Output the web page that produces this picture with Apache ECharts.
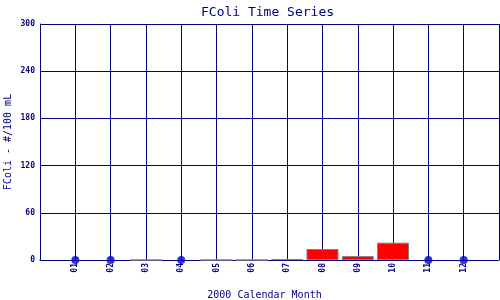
<!DOCTYPE html>
<html><head><meta charset="utf-8">
<script src="https://cdn.jsdelivr.net/npm/echarts@6/dist/echarts.min.js"></script>
<style>html,body{margin:0;padding:0;background:#fff}#c{width:500px;height:300px}</style>
</head><body><div id="c"></div>
<script>
var months = ['01','02','03','04','05','06','07','08','09','10','11','12'];
var barValues = [null, null, 0, null, 0, 0, 1, 14, 5, 22, null, null];
var dotValues = [0, 0, null, 0, null, null, null, null, null, null, 0, 0];
var yTicks = [0, 60, 120, 180, 240, 300];

var navy = '#000080';
var mono = 'DejaVu Sans Mono';
var barData = [], dotData = [];
months.forEach(function (m, i) {
  if (barValues[i] !== null) barData.push([i + 1, barValues[i]]);
  if (dotValues[i] !== null) dotData.push([i + 1, dotValues[i]]);
});

var chart = echarts.init(document.getElementById('c'));
chart.setOption({
  animation: false,
  backgroundColor: '#fff',
  title: {
    text: 'FColi Time Series', left: 196, top: 1,
    textStyle: { fontFamily: mono, fontSize: 13, fontWeight: 'normal', color: navy }
  },
  grid: { left: 40, right: 1, top: 24, bottom: 40, containLabel: false, outerBoundsMode: 'none' },
  xAxis: {
    type: 'value', min: 0, max: months.length + 1, interval: 1,
    name: '2000 Calendar Month', nameLocation: 'middle', nameGap: 30,
    nameTextStyle: { fontFamily: mono, fontSize: 10, color: navy, padding: [0, 10, 0, 0] },
    axisLine: { show: true, lineStyle: { color: navy, width: 1 } },
    axisTick: { show: false },
    splitLine: { show: true, lineStyle: { color: navy, width: 1 } },
    axisLabel: {
      rotate: 90, margin: 3, fontFamily: mono, fontSize: 8, fontWeight: 'bold', color: navy,
      formatter: function (v) { return (v >= 1 && v <= months.length) ? months[v - 1] : ''; }
    }
  },
  yAxis: {
    type: 'value', min: yTicks[0], max: yTicks[yTicks.length - 1], interval: 60,
    name: 'FColi - #/100 mL', nameLocation: 'middle', nameGap: 27, nameMoveOverlap: false,
    nameTextStyle: { fontFamily: mono, fontSize: 10, color: navy },
    axisLine: { show: true, lineStyle: { color: navy, width: 1 } },
    axisTick: { show: false },
    splitLine: { show: true, lineStyle: { color: navy, width: 1 } },
    axisLabel: { margin: 5, fontFamily: mono, fontSize: 8, fontWeight: 'bold', color: navy }
  },
  series: [
    {
      type: 'bar', data: barData, barWidth: 32,
      itemStyle: { color: '#ff0000', borderColor: '#808080', borderWidth: 1 }
    },
    {
      type: 'scatter', data: dotData, symbolSize: 8,
      itemStyle: { color: '#0000cc' }
    }
  ]
});
</script></body></html>
